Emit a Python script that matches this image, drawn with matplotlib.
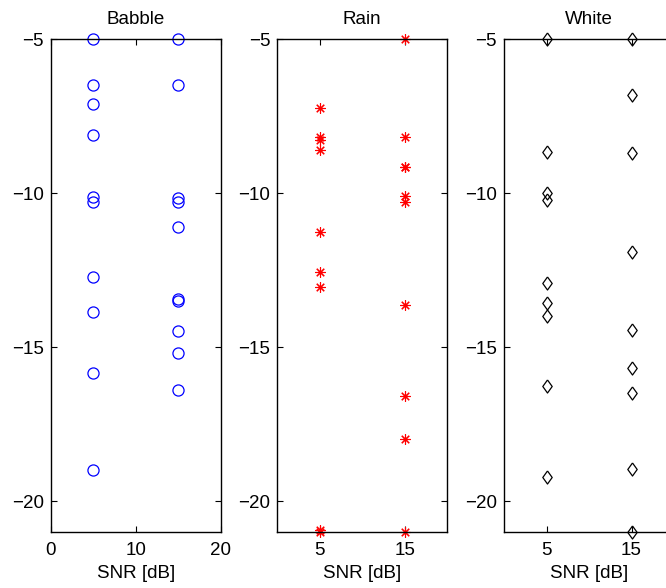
import matplotlib
matplotlib.use("Agg")
import matplotlib.pyplot as plt
import numpy as np

plt.rcParams['font.family'] = ['Liberation Sans', 'DejaVu Sans']

titles = ["Babble", "Rain", "White"]
snr_low = 5
snr_high = 15

babble_5 = [-5.0, -6.48, -7.10, -8.09, -10.13, -10.28, -12.73, -13.86, -15.84, -18.97]
babble_15 = [-5.0, -6.48, -10.16, -10.28, -11.09, -13.43, -13.49, -14.46, -15.19, -16.38]
rain_5 = [-7.24, -8.16, -8.27, -8.58, -11.27, -12.56, -13.05, -20.92, -21.0]
rain_15 = [-5.0, -8.17, -9.13, -9.16, -10.09, -10.27, -13.63, -16.59, -17.98, -21.0]
white_5 = [-5.0, -8.65, -9.98, -10.2, -12.92, -13.57, -13.98, -16.26, -19.21]
white_15 = [-5.0, -6.81, -8.69, -11.9, -14.42, -15.66, -16.47, -18.96, -21.0]

xticks_list = [[0, 10, 20], [5, 15], [5, 15]]
yticks = [-5, -10, -15, -20]

diamond = [(0, 1), (0.72, 0), (0, -1), (-0.72, 0), (0, 1)]
styles = [
    dict(marker='o', ms=8, mfc='none', mec=(0, 0, 1), mew=0.9),
    dict(marker=(8, 2, 0), ms=7.5, mfc='none', mec=(1, 0, 0), mew=0.8),
    dict(marker=diamond, ms=9.4, mfc='none', mec='black', mew=0.9),
]
series = [(babble_5, babble_15), (rain_5, rain_15), (white_5, white_15)]

fig = plt.figure(figsize=(6.66, 5.88), dpi=100)
W, H = 666, 588
lefts = [50.7, 277.3, 504.0]
width = 170.0
top = 39.3
bottom = 532.3
fs = 13.5

for i in range(3):
    ax = fig.add_axes([lefts[i] / W, 1 - bottom / H, width / W, (bottom - top) / H])
    lo, hi = series[i]
    ax.plot([snr_low] * len(lo), lo, linestyle='none', clip_on=False, **styles[i])
    ax.plot([snr_high] * len(hi), hi, linestyle='none', clip_on=False, **styles[i])
    ax.set_xlim(0, 20)
    ax.set_ylim(-21, -5)
    ax.set_xticks(xticks_list[i])
    ax.set_yticks(yticks)
    ax.tick_params(direction='in', length=4, width=0.8, top=True, right=True,
                   labelsize=fs)
    ax.tick_params(axis='x', pad=7)
    ax.tick_params(axis='y', pad=5)
    ax.set_title(titles[i], fontsize=fs, pad=11)
    ax.set_xlabel("SNR [dB]", fontsize=fs, labelpad=4)
    for s in ax.spines.values():
        s.set_linewidth(1.0)

fig.savefig("out.png", dpi=100)
